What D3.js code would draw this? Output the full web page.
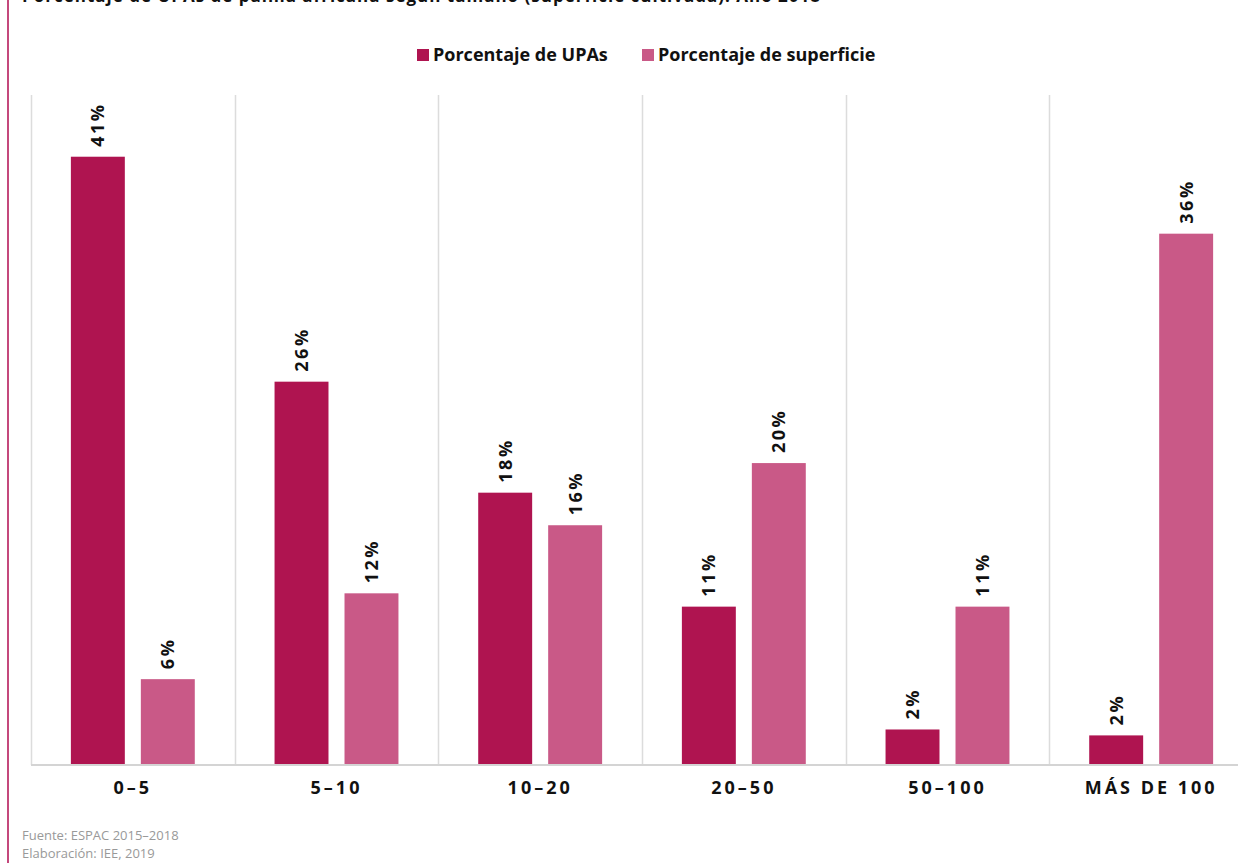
<!DOCTYPE html>
<html>
<head>
<meta charset="utf-8">
<script src="https://cdn.jsdelivr.net/npm/d3@7"></script>
<style>
  body { margin: 0; background: #fff; }
  svg { display: block; font-family: "Open Sans", "Noto Sans", sans-serif; }
</style>
</head>
<body>
<div id="chart"></div>
<script>
let categories = ["0–5", "5–10", "10–20", "20–50", "50–100", "MÁS DE 100"];
let seriesNames = ["Porcentaje de UPAs", "Porcentaje de superficie"];
let upas = [41.1, 25.9, 18.4, 10.7, 2.4, 2.0];
let superficie = [5.8, 11.6, 16.2, 20.4, 10.7, 35.9];
let colors = ["#af1450", "#c95987"];

let width = 1238, height = 863;
let margin = { "top": 95, "bottom": 98, "left": 31, "right": -15 };
let titleText = "Porcentaje de UPAs de palma africana según tamaño (superficie cultivada). Año 2018";

let svg = d3.select("#chart")
    .append("svg")
    .attr("width", width)
    .attr("height", height);

// left accent line
svg.append("rect")
    .attr("x", 7).attr("y", 0)
    .attr("width", 2).attr("height", height)
    .attr("fill", "#c4487c");

// title (cut at the top of the picture, as in the original)
svg.append("text")
    .attr("x", 22).attr("y", 2)
    .attr("font-size", 17)
    .attr("font-weight", "bold")
    .attr("letter-spacing", "1px")
    .attr("fill", "#111")
    .text(titleText);

let x0 = d3.scaleBand()
    .domain(categories)
    .range([margin.left, width - margin.right])
    .padding(0);
let x1 = d3.scaleBand()
    .domain(d3.range(2))
    .range([0, x0.bandwidth()])
    .paddingInner(0.229)
    .paddingOuter(0.57);
let y = d3.scaleLinear()
    .domain([0, 45])
    .range([height - margin.bottom, height - margin.bottom - 45 * 14.8]);

// vertical grid lines between categories
let gridX = categories.map(function(c) { return x0(c); });
svg.append("g")
    .selectAll("line")
    .data(gridX)
    .enter()
    .append("line")
    .attr("x1", function(d) { return Math.round(d) + 0.5; })
    .attr("x2", function(d) { return Math.round(d) + 0.5; })
    .attr("y1", margin.top)
    .attr("y2", height - margin.bottom)
    .attr("stroke", "#dcdcdc")
    .attr("stroke-width", 1.5);

// bars
let rows = categories.map(function(c, i) { return { cat: c, vals: [upas[i], superficie[i]] }; });
let groups = svg.append("g")
    .selectAll("g")
    .data(rows)
    .enter()
    .append("g")
    .attr("transform", function(d) { return "translate(" + x0(d.cat) + ",0)"; });

groups.selectAll("rect")
    .data(function(d) { return d.vals; })
    .enter()
    .append("rect")
    .attr("x", function(d, i) { return x1(i); })
    .attr("y", function(d) { return y(d); })
    .attr("width", x1.bandwidth())
    .attr("height", function(d) { return y(0) - y(d); })
    .attr("fill", function(d, i) { return colors[i]; });

groups.selectAll("text")
    .data(function(d) { return d.vals; })
    .enter()
    .append("text")
    .attr("transform", function(d, i) {
        return "translate(" + (x1(i) + x1.bandwidth() / 2) + "," + (y(d) - 10) + ") rotate(-90)";
    })
    .attr("dy", "0.36em")
    .attr("font-size", 18)
    .attr("font-weight", "bold")
    .attr("letter-spacing", "2.5px")
    .attr("fill", "#111")
    .text(function(d) { return Math.round(d) + "%"; });

// x axis
let xAxis = d3.axisBottom(x0).tickSize(0).tickPadding(16);
let axisG = svg.append("g")
    .attr("transform", "translate(0," + (height - margin.bottom) + ")")
    .call(xAxis);
axisG.select(".domain")
    .attr("stroke", "#d4d4d4")
    .attr("stroke-width", 2)
    .attr("d", "M" + margin.left + ",0H" + width);
axisG.selectAll("text")
    .attr("font-size", 18)
    .attr("font-weight", "bold")
    .attr("letter-spacing", "3px")
    .attr("fill", "#111")
    .style("font-family", "'Open Sans', sans-serif");

// legend
let legendX = [417, 642];
let legend = svg.append("g")
    .selectAll("g")
    .data(seriesNames)
    .enter()
    .append("g")
    .attr("transform", function(d, i) { return "translate(" + legendX[i] + ",49)"; });
legend.append("rect")
    .attr("width", 12).attr("height", 12)
    .attr("fill", function(d, i) { return colors[i]; });
legend.append("text")
    .attr("x", 16).attr("y", 6)
    .attr("dy", "0.35em")
    .attr("font-size", 18)
    .attr("font-weight", "bold")
    .attr("fill", "#111")
    .text(function(d) { return d; });

// source notes
let notes = ["Fuente: ESPAC 2015–2018", "Elaboración: IEE, 2019"];
svg.append("g")
    .selectAll("text")
    .data(notes)
    .enter()
    .append("text")
    .attr("x", 22)
    .attr("y", function(d, i) { return 840 + i * 18; })
    .attr("font-size", 13)
    .attr("fill", "#999")
    .text(function(d) { return d; });
</script>
</body>
</html>
